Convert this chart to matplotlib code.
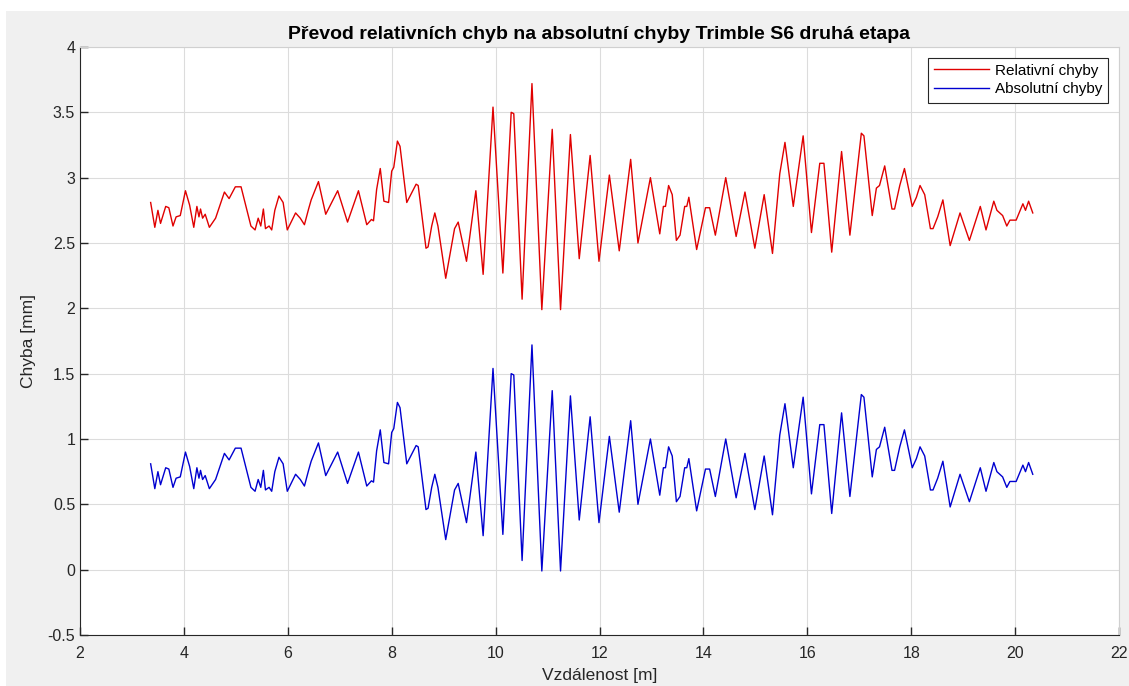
import matplotlib
matplotlib.use("Agg")
import matplotlib.pyplot as plt
from matplotlib.patches import Rectangle

plt.rcParams['font.family'] = ['Liberation Sans', 'DejaVu Sans']

# vzdálenost [m]
dist = [3.36, 3.44, 3.50, 3.55, 3.65, 3.71, 3.79, 3.85, 3.93, 4.03,
        4.11, 4.19, 4.25, 4.29, 4.32, 4.36, 4.41, 4.49, 4.61, 4.78,
        4.87, 4.99, 5.10, 5.29, 5.37, 5.43, 5.48, 5.53, 5.57, 5.64,
        5.69, 5.75, 5.83, 5.91, 5.99, 6.15, 6.24, 6.32, 6.40, 6.45,
        6.59, 6.73, 6.96, 7.15, 7.36, 7.52, 7.61, 7.65, 7.71, 7.78,
        7.85, 7.94, 8.00, 8.04, 8.11, 8.16, 8.29, 8.47, 8.51, 8.66,
        8.70, 8.77, 8.83, 8.89, 9.04, 9.21, 9.28, 9.44, 9.62, 9.76,
        9.95, 10.14, 10.30, 10.35, 10.51, 10.70, 10.89, 11.09, 11.25, 11.44,
        11.61, 11.82, 11.99, 12.19, 12.38, 12.60, 12.74, 12.98, 13.16, 13.23,
        13.27, 13.33, 13.40, 13.48, 13.55, 13.64, 13.68, 13.72, 13.87, 14.04,
        14.12, 14.23, 14.43, 14.63, 14.80, 14.99, 15.17, 15.33, 15.47, 15.57,
        15.73, 15.92, 16.08, 16.24, 16.32, 16.47, 16.66, 16.82, 17.04, 17.09,
        17.25, 17.33, 17.39, 17.49, 17.63, 17.68, 17.78, 17.87, 18.02, 18.10,
        18.17, 18.26, 18.37, 18.42, 18.51, 18.61, 18.75, 18.94, 19.12, 19.33,
        19.44, 19.59, 19.65, 19.76, 19.84, 19.90, 20.02, 20.15, 20.20, 20.26,
        20.34]

# relativní chyby [mm]
rel = [2.81, 2.62, 2.75, 2.65, 2.78, 2.77, 2.63, 2.70, 2.71, 2.90,
       2.79, 2.62, 2.78, 2.70, 2.76, 2.69, 2.72, 2.62, 2.69, 2.89,
       2.84, 2.93, 2.93, 2.63, 2.60, 2.69, 2.63, 2.76, 2.61, 2.63,
       2.60, 2.75, 2.86, 2.81, 2.60, 2.73, 2.69, 2.64, 2.76, 2.83,
       2.97, 2.72, 2.90, 2.66, 2.90, 2.64, 2.68, 2.67, 2.91, 3.07,
       2.82, 2.81, 3.05, 3.08, 3.28, 3.24, 2.81, 2.95, 2.94, 2.46,
       2.47, 2.63, 2.73, 2.63, 2.23, 2.61, 2.66, 2.36, 2.90, 2.26,
       3.54, 2.27, 3.50, 3.49, 2.07, 3.72, 1.99, 3.37, 1.99, 3.33,
       2.38, 3.17, 2.36, 3.02, 2.44, 3.14, 2.50, 3.00, 2.57, 2.78,
       2.78, 2.94, 2.87, 2.52, 2.56, 2.78, 2.78, 2.85, 2.45, 2.77,
       2.77, 2.56, 3.00, 2.55, 2.89, 2.46, 2.87, 2.42, 3.03, 3.27,
       2.78, 3.32, 2.58, 3.11, 3.11, 2.43, 3.20, 2.56, 3.34, 3.32,
       2.71, 2.92, 2.94, 3.09, 2.76, 2.76, 2.94, 3.07, 2.78, 2.85,
       2.94, 2.87, 2.61, 2.61, 2.70, 2.83, 2.48, 2.73, 2.52, 2.78,
       2.60, 2.82, 2.75, 2.71, 2.63, 2.675, 2.675, 2.80, 2.75, 2.82,
       2.73]

# absolutní chyby [mm]
absl = [0.81, 0.62, 0.75, 0.65, 0.78, 0.77, 0.63, 0.70, 0.71, 0.90,
        0.79, 0.62, 0.78, 0.70, 0.76, 0.69, 0.72, 0.62, 0.69, 0.89,
        0.84, 0.93, 0.93, 0.63, 0.60, 0.69, 0.63, 0.76, 0.61, 0.63,
        0.60, 0.75, 0.86, 0.81, 0.60, 0.73, 0.69, 0.64, 0.76, 0.83,
        0.97, 0.72, 0.90, 0.66, 0.90, 0.64, 0.68, 0.67, 0.91, 1.07,
        0.82, 0.81, 1.05, 1.08, 1.28, 1.24, 0.81, 0.95, 0.94, 0.46,
        0.47, 0.63, 0.73, 0.63, 0.23, 0.61, 0.66, 0.36, 0.90, 0.26,
        1.54, 0.27, 1.50, 1.49, 0.07, 1.72, -0.01, 1.37, -0.01, 1.33,
        0.38, 1.17, 0.36, 1.02, 0.44, 1.14, 0.50, 1.00, 0.57, 0.78,
        0.78, 0.94, 0.87, 0.52, 0.56, 0.78, 0.78, 0.85, 0.45, 0.77,
        0.77, 0.56, 1.00, 0.55, 0.89, 0.46, 0.87, 0.42, 1.03, 1.27,
        0.78, 1.32, 0.58, 1.11, 1.11, 0.43, 1.20, 0.56, 1.34, 1.32,
        0.71, 0.92, 0.94, 1.09, 0.76, 0.76, 0.94, 1.07, 0.78, 0.85,
        0.94, 0.87, 0.61, 0.61, 0.70, 0.83, 0.48, 0.73, 0.52, 0.78,
        0.60, 0.82, 0.75, 0.71, 0.63, 0.675, 0.675, 0.80, 0.75, 0.82,
        0.73]

fig = plt.figure(figsize=(11.29, 6.86), dpi=100, facecolor='white')
fig.patches.append(Rectangle((6 / 1129, 0), 1, 1 - 11 / 686, transform=fig.transFigure,
                             facecolor='#f0f0f0', edgecolor='none', zorder=-5))
ax = fig.add_axes([80 / 1129, 51 / 686, 1039 / 1129, 588 / 686])

ax.plot(dist, rel, color='#e00000', lw=1.0, label='Relativní chyby')
ax.plot(dist, absl, color='#0000d0', lw=1.0, label='Absolutní chyby')

ax.set_xlim(2, 22)
ax.set_ylim(-0.5, 4)
ax.set_xticks(range(2, 23, 2))
ax.set_yticks([-0.5, 0, 0.5, 1, 1.5, 2, 2.5, 3, 3.5, 4])
ax.set_yticklabels(['-0.5', '0', '0.5', '1', '1.5', '2', '2.5', '3', '3.5', '4'])
ax.grid(True, color='#dcdcdc', lw=0.8)
ax.set_axisbelow(True)
ax.tick_params(direction='in', length=6, width=1, colors='#262626', labelsize=11.5)
ax.tick_params(axis='x', pad=8)
for s in ['top', 'right']:
    ax.spines[s].set_color('#d0d0d0')
for s in ['left', 'bottom']:
    ax.spines[s].set_color('#262626')

ax.set_title('Převod relativních chyb na absolutní chyby Trimble S6 druhá etapa',
             fontsize=14, fontweight='bold', pad=6)
ax.set_xlabel('Vzdálenost [m]', fontsize=12.5, color='#262626', labelpad=5)
ax.set_ylabel('Chyba [mm]', fontsize=12.5, color='#262626', labelpad=8)

leg = ax.legend(loc='upper right', fontsize=11, fancybox=False, framealpha=1,
                edgecolor='#262626', borderpad=0.4, labelspacing=0.3,
                handlelength=3.6, handletextpad=0.4, borderaxespad=0.7)
leg.get_frame().set_linewidth(0.8)

fig.savefig('out.png', dpi=100, facecolor=fig.get_facecolor())
